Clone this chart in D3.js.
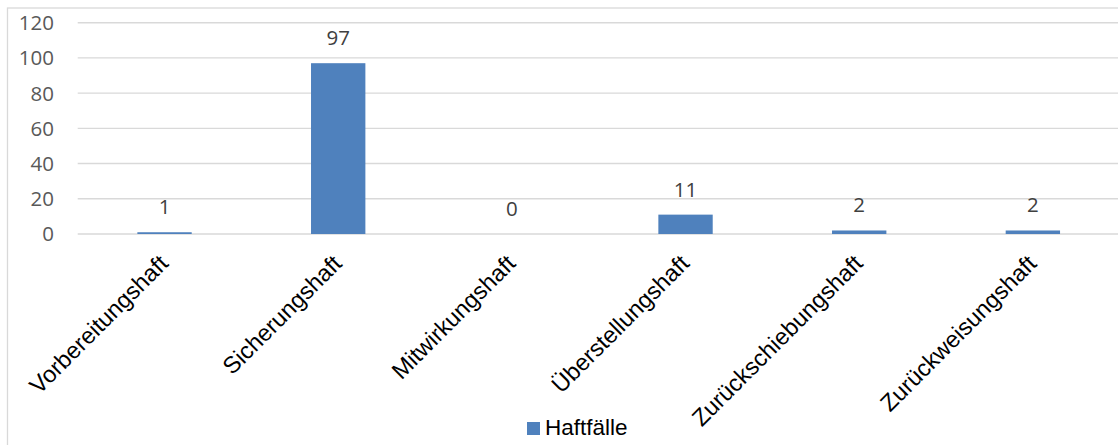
<!DOCTYPE html>
<html>
<head>
<meta charset="utf-8">
<script src="https://cdn.jsdelivr.net/npm/d3@7"></script>
<style>
  body { margin: 0; background: #fff; }
  svg { display: block; }
</style>
</head>
<body>
<svg width="1118" height="445"></svg>
<script>
var categories = ["Vorbereitungshaft", "Sicherungshaft", "Mitwirkungshaft",
                  "Überstellungshaft", "Zurückschiebungshaft", "Zurückweisungshaft"];
var haftfaelle = [1, 97, 0, 11, 2, 2];
var yTicks = [0, 20, 40, 60, 80, 100, 120];
var seriesName = "Haftfälle";

var svg = d3.select("svg"),
    width = +svg.attr("width"),
    height = +svg.attr("height");

var plot = { left: 77.7, right: 1119.7, top: 22.7, bottom: 234 };
var barColor = "#4f81bd";

// chart area frame (runs off the right/bottom edge like the screenshot)
svg.append("rect")
    .attr("x", 7.5).attr("y", 8)
    .attr("width", 1200).attr("height", 500)
    .attr("fill", "none")
    .attr("stroke", "#d9d9d9")
    .attr("stroke-width", 1.3);

var x = d3.scaleBand()
    .domain(categories)
    .range([plot.left, plot.right])
    .paddingInner(0.687)
    .paddingOuter(0.3435);

var y = d3.scaleLinear()
    .domain([0, 120])
    .range([plot.bottom, plot.top]);

// gridlines
svg.append("g")
    .selectAll("line")
    .data(yTicks)
    .enter().append("line")
    .attr("x1", plot.left)
    .attr("x2", plot.right)
    .attr("y1", function(d) { return y(d); })
    .attr("y2", function(d) { return y(d); })
    .attr("stroke", "#d9d9d9")
    .attr("stroke-width", 1.4);

// y tick labels
svg.append("g")
    .selectAll("text")
    .data(yTicks)
    .enter().append("text")
    .attr("x", 54)
    .attr("y", function(d) { return y(d); })
    .attr("dy", "0.36em")
    .attr("text-anchor", "end")
    .attr("font-family", "'Open Sans', sans-serif")
    .attr("font-size", 20.5)
    .attr("fill", "#595959")
    .text(function(d) { return d; });

var data = categories.map(function(c, i) { return { cat: c, value: haftfaelle[i] }; });

// bars
svg.append("g")
    .selectAll("rect")
    .data(data)
    .enter().append("rect")
    .attr("x", function(d) { return x(d.cat); })
    .attr("width", x.bandwidth())
    .attr("y", function(d) { return y(d.value); })
    .attr("height", function(d) { return y(0) - y(d.value); })
    .attr("fill", barColor);

// value labels
svg.append("g")
    .selectAll("text")
    .data(data)
    .enter().append("text")
    .attr("x", function(d) { return x(d.cat) + x.bandwidth() / 2; })
    .attr("y", function(d) { return y(d.value) - 18; })
    .attr("text-anchor", "middle")
    .attr("font-family", "'Open Sans', sans-serif")
    .attr("font-size", 20.5)
    .attr("fill", "#404040")
    .text(function(d) { return d.value; });

// rotated category labels
svg.append("g")
    .selectAll("text")
    .data(categories)
    .enter().append("text")
    .attr("transform", function(d) {
      return "translate(" + (x(d) + x.bandwidth() / 2 + 5) + ",265) rotate(-45)";
    })
    .attr("text-anchor", "end")
    .attr("font-family", "'Liberation Sans', Arial, sans-serif")
    .attr("font-size", 23.5)
    .attr("fill", "#000")
    .text(function(d) { return d; });

// legend
var legend = svg.append("g").attr("transform", "translate(527,422)");
legend.append("rect")
    .attr("width", 13).attr("height", 13)
    .attr("fill", barColor);
legend.append("text")
    .attr("x", 18).attr("y", 13)
    .attr("font-family", "'Liberation Sans', Arial, sans-serif")
    .attr("font-size", 22.5)
    .attr("fill", "#000")
    .text(seriesName);
</script>
</body>
</html>
